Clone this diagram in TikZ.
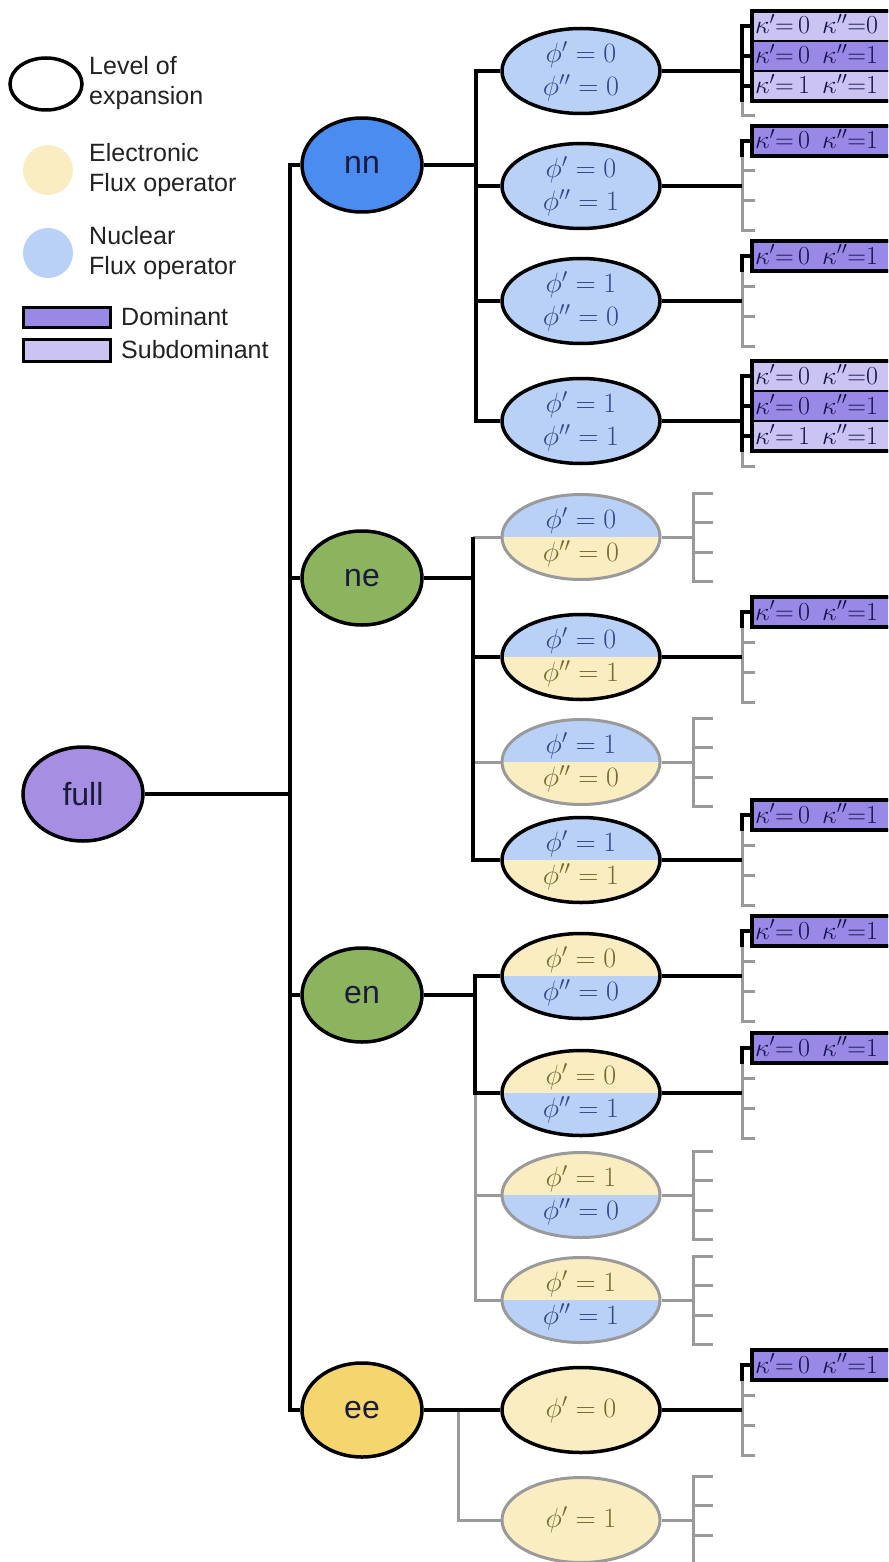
\RequirePackage{fix-cm}
\documentclass[tikz,border=0pt]{standalone}
\usepackage[no-math]{fontspec}
\setmainfont{Liberation Sans}
\usetikzlibrary{shapes.geometric}
\definecolor{cfull}{HTML}{A68FE3}
\definecolor{cnn}{HTML}{4A8CF0}
\definecolor{cgreen}{HTML}{8CB45F}
\definecolor{cee}{HTML}{F5D66E}
\definecolor{cnuc}{HTML}{B9D1F7}
\definecolor{celec}{HTML}{F9EDC1}
\definecolor{cdom}{HTML}{9A88E6}
\definecolor{csub}{HTML}{CBC3F1}
\definecolor{cgray}{HTML}{9A9A9A}
\definecolor{tblue}{HTML}{34488A}
\definecolor{tyel}{HTML}{7A6A30}
\definecolor{cktxt}{HTML}{14144A}
\definecolor{clvtxt}{HTML}{1A1A3A}
\definecolor{clegtxt}{HTML}{222222}
\newcommand\lvlfont{\fontsize{32}{37}\selectfont}
\newcommand\legfont{\fontsize{25}{30}\selectfont}
\newcommand\phifont{\fontsize{28}{33}\selectfont}
\newcommand\kfont{\fontsize{26}{28}\selectfont}
\newcommand\tb[1]{\textcolor{tblue}{#1}}
\newcommand\ty[1]{\textcolor{tyel}{#1}}
\newcommand\ktxt[2]{$\kappa'{=}\,#1\hspace{12pt}\kappa''{=}#2$}
\tikzset{
  blk/.style={line width=3.5pt, draw=black, line join=miter},
  gry/.style={line width=3pt, draw=cgray, line join=miter},
  lvl/.style={ellipse, draw, line width=3.5pt, minimum width=120pt, minimum height=94pt, inner sep=0pt, font=\lvlfont, text=clvtxt},
  chld/.style={ellipse, draw, line width=3.5pt, minimum width=158pt, minimum height=85pt, inner sep=0pt, font=\phifont, align=center},
  gchld/.style={chld, draw=cgray, line width=3pt},
  blueyel/.style={path picture={
     \fill[cnuc] (path picture bounding box.north west) rectangle (path picture bounding box.east);
     \fill[celec] (path picture bounding box.west) rectangle (path picture bounding box.south east);}},
  yelblue/.style={path picture={
     \fill[celec] (path picture bounding box.north west) rectangle (path picture bounding box.east);
     \fill[cnuc] (path picture bounding box.west) rectangle (path picture bounding box.south east);}},
  krow/.style={rectangle, draw=black, line width=1.2pt, outer sep=0pt, minimum width=150pt, minimum height=30pt, text height=16pt, text depth=0pt, text width=144pt, inner xsep=3pt, inner ysep=0pt, align=left, anchor=west, font=\kfont, text=cktxt},
  legtxt/.style={anchor=west, align=left, font=\legfont, text=clegtxt, inner sep=0pt},
}
\newcommand\kone[2]{%
  \node[krow, fill=cdom] (#1r1) at (752,#2-45) {\ktxt{0}{1}};
  \draw[line width=3.5pt] (#1r1.north west) rectangle (#1r1.south east);
  \draw[gry] (742,#2-30) -- (742,#2+45) -- (755,#2+45);
  \draw[gry] (742,#2-15) -- (755,#2-15);
  \draw[gry] (742,#2+15) -- (755,#2+15);
  \draw[blk] (#1r1.west) -- (742,#2-45) -- (742,#2-29);
  \draw[blk] (#1) -- (742,#2);
}
\newcommand\kthree[2]{%
  \node[krow, fill=csub] (#1r1) at (752,#2-45) {\ktxt{0}{0}};
  \node[krow, fill=cdom] (#1r2) at (752,#2-15) {\ktxt{0}{1}};
  \node[krow, fill=csub] (#1r3) at (752,#2+15) {\ktxt{1}{1}};
  \draw[line width=3.5pt] (#1r1.north west) rectangle (#1r3.south east);
  \draw[gry] (742,#2+30) -- (742,#2+45) -- (755,#2+45);
  \draw[blk] (#1r1.west) -- (742,#2-45) -- (742,#2+31);
  \draw[blk] (#1r2.west) -- (742,#2-15);
  \draw[blk] (#1r3.west) -- (742,#2+15);
  \draw[blk] (#1) -- (742,#2);
}
\newcommand\gbr[2]{%
  \draw[gry] (#1) -- (693,#2);
  \draw[gry] (713,#2-44) -- (693,#2-44) -- (693,#2+44) -- (713,#2+44);
  \draw[gry] (693,#2-15) -- (713,#2-15);
  \draw[gry] (693,#2+15) -- (713,#2+15);
}
\begin{document}
\begin{tikzpicture}[x=1pt,y=-1pt]
\useasboundingbox (0,0) rectangle (888,1562);
\clip (0,0) rectangle (888,1562);
\fill[white] (0,0) rectangle (888,1562);

% ---------------- legend
\node[ellipse, draw, line width=3.5pt, minimum width=72pt, minimum height=52pt, inner sep=0pt] (lgE) at (46,84) {};
\node[legtxt] (lgEt) at (89,83) {Level of\\expansion};
\node[circle, fill=celec, minimum size=50pt, inner sep=0pt] (lgY) at (48,170) {};
\node[legtxt] (lgYt) at (89,170) {Electronic\\Flux operator};
\node[circle, fill=cnuc, minimum size=50pt, inner sep=0pt] (lgB) at (48,253) {};
\node[legtxt] (lgBt) at (89,253) {Nuclear\\Flux operator};
\node[rectangle, draw, line width=3pt, fill=cdom, minimum width=87pt, minimum height=20pt, inner sep=0pt] (lgD) at (66.5,317) {};
\node[legtxt] (lgDt) at (121,317) {Dominant};
\node[rectangle, draw, line width=3pt, fill=csub, minimum width=87pt, minimum height=22pt, inner sep=0pt] (lgS) at (66.5,350) {};
\node[legtxt] (lgSt) at (121,350) {Subdominant};

% ---------------- level 1
\node[lvl, fill=cfull] (full) at (83,794) {full};
\node[lvl, fill=cnn] (nn) at (362,165) {nn};
\node[lvl, fill=cgreen] (ne) at (362,578) {ne};
\node[lvl, fill=cgreen] (en) at (362,995) {en};
\node[lvl, fill=cee] (ee) at (362,1410) {ee};
\coordinate (Ttop) at (290,165);
\coordinate (Tbot) at (290,1410);
\draw[blk] (nn.west) -- (Ttop) -- (Tbot) -- (ee.west);
\draw[blk] (full.east) -- (full.east -| Ttop);
\draw[blk] (ne.west) -- (ne.west -| Ttop);
\draw[blk] (en.west) -- (en.west -| Ttop);

% ---------------- nn branch
\node[chld, fill=cnuc] (a1) at (581,71) {\tb{$\phi'=0$}\\\tb{$\phi''=0$}};
\node[chld, fill=cnuc] (a2) at (581,186) {\tb{$\phi'=0$}\\\tb{$\phi''=1$}};
\node[chld, fill=cnuc] (a3) at (581,301) {\tb{$\phi'=1$}\\\tb{$\phi''=0$}};
\node[chld, fill=cnuc] (a4) at (581,421) {\tb{$\phi'=1$}\\\tb{$\phi''=1$}};
\coordinate (nnT) at (476,165);
\draw[blk] (nn) -- (nnT);
\draw[blk] (a1.west) -- (a1.west -| nnT) -- (a4.west -| nnT) -- (a4.west);
\draw[blk] (a2.west -| nnT) -- (a2.west);
\draw[blk] (a3.west -| nnT) -- (a3.west);
\kthree{a1}{71}
\kone{a2}{186}
\kone{a3}{301}
\kthree{a4}{421}

% ---------------- ne branch
\node[gchld, blueyel] (b1) at (581,537) {\tb{$\phi'=0$}\\\ty{$\phi''=0$}};
\node[chld, blueyel] (b2) at (581,657) {\tb{$\phi'=0$}\\\ty{$\phi''=1$}};
\node[gchld, blueyel] (b3) at (581,762) {\tb{$\phi'=1$}\\\ty{$\phi''=0$}};
\node[chld, blueyel] (b4) at (581,860) {\tb{$\phi'=1$}\\\ty{$\phi''=1$}};
\coordinate (neT) at (473,578);
\draw[blk] (ne) -- (neT);
\draw[gry] (b1.west -| neT) -- (b1.west);
\draw[gry] (b3.west -| neT) -- (b3.west);
\draw[blk] (b1.west -| neT) -- (b4.west -| neT) -- (b4.west);
\draw[blk] (b2.west -| neT) -- (b2.west);
\gbr{b1}{537}
\kone{b2}{657}
\gbr{b3}{762}
\kone{b4}{860}

% ---------------- en branch
\node[chld, yelblue] (c1) at (581,976) {\ty{$\phi'=0$}\\\tb{$\phi''=0$}};
\node[chld, yelblue] (c2) at (581,1093) {\ty{$\phi'=0$}\\\tb{$\phi''=1$}};
\node[gchld, yelblue] (c3) at (581,1195) {\ty{$\phi'=1$}\\\tb{$\phi''=0$}};
\node[gchld, yelblue] (c4) at (581,1300) {\ty{$\phi'=1$}\\\tb{$\phi''=1$}};
\coordinate (enT) at (475,995);
\draw[gry] (c2.west -| enT) -- (c4.west -| enT) -- (c4.west);
\draw[gry] (c3.west -| enT) -- (c3.west);
\draw[blk] (en) -- (enT);
\draw[blk] (c1.west) -- (c1.west -| enT) -- (c2.west -| enT) -- (c2.west);
\kone{c1}{976}
\kone{c2}{1093}
\gbr{c3}{1195}
\gbr{c4}{1300}

% ---------------- ee branch
\node[chld, fill=celec] (e1) at (581,1410) {\ty{$\phi'=0$}};
\node[gchld, fill=celec] (e2) at (581,1520) {\ty{$\phi'=1$}};
\coordinate (eeG) at (458,1410);
\draw[gry] (eeG) -- (eeG |- e2.west) -- (e2.west);
\draw[blk] (ee) -- (e1);
\kone{e1}{1410}
\gbr{e2}{1520}
\end{tikzpicture}
\end{document}
